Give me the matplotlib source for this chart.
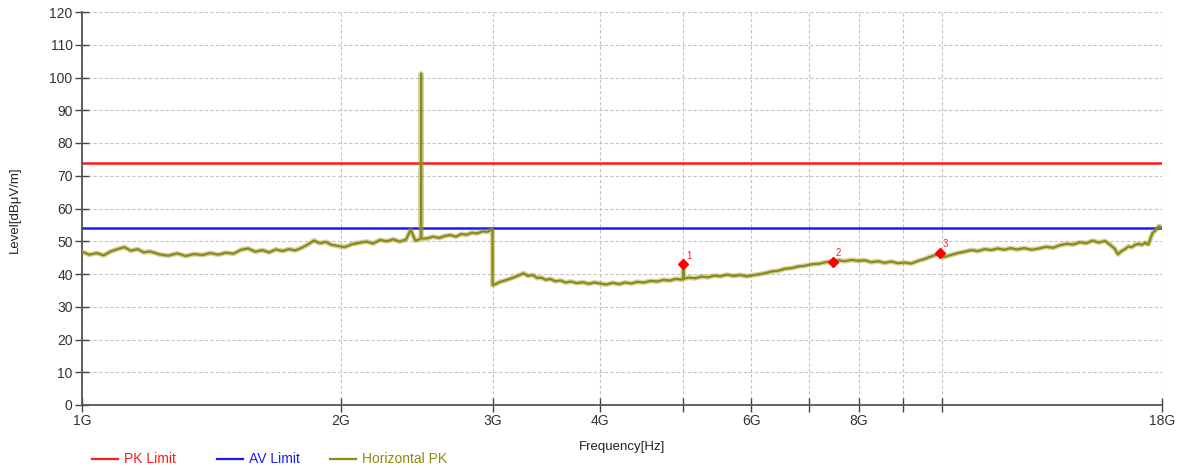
import matplotlib
matplotlib.use("Agg")
import matplotlib.pyplot as plt
from matplotlib.lines import Line2D
from matplotlib.ticker import FixedLocator, FixedFormatter, NullLocator

plt.rcParams['font.family'] = ['Liberation Sans', 'DejaVu Sans']

# ---------------- data ----------------
freq_ghz = [
    1.00, 1.02, 1.04, 1.06, 1.08, 1.10, 1.12, 1.14, 1.16, 1.18, 1.20, 1.23, 1.26, 1.29,
    1.32, 1.35, 1.38, 1.41, 1.44, 1.47, 1.50, 1.53, 1.56, 1.59, 1.62, 1.65, 1.68, 1.71,
    1.74, 1.77, 1.80, 1.83, 1.86, 1.89, 1.92, 1.95, 1.98, 2.02, 2.06, 2.10, 2.14, 2.18,
    2.22, 2.26, 2.30, 2.34, 2.38, 2.41, 2.44, 2.47, 2.477, 2.478, 2.479, 2.49, 2.52,
    2.56, 2.60, 2.64, 2.68, 2.72, 2.76, 2.80, 2.84, 2.88, 2.92, 2.96, 2.995, 3.000,
    3.001, 3.03, 3.06, 3.10, 3.14, 3.18, 3.22, 3.26, 3.30, 3.34, 3.38, 3.42, 3.46, 3.50,
    3.55, 3.60, 3.65, 3.70, 3.76, 3.82, 3.88, 3.94, 4.00, 4.07, 4.14, 4.21, 4.28, 4.35,
    4.42, 4.50, 4.58, 4.66, 4.74, 4.82, 4.90, 4.98, 4.995, 5.00, 5.005, 5.08, 5.16,
    5.25, 5.34, 5.43, 5.52, 5.62, 5.72, 5.82, 5.92, 6.02, 6.12, 6.23, 6.34, 6.45, 6.56,
    6.68, 6.80, 6.92, 7.05, 7.18, 7.31, 7.44, 7.57, 7.70, 7.84, 7.98, 8.12, 8.27, 8.42,
    8.57, 8.72, 8.88, 9.04, 9.20, 9.37, 9.54, 9.71, 9.88, 10.05, 10.23, 10.42, 10.61,
    10.80, 11.0, 11.2, 11.4, 11.6, 11.8, 12.0, 12.2, 12.45, 12.7, 12.95, 13.2, 13.45,
    13.7, 13.95, 14.2, 14.45, 14.7, 14.95, 15.2, 15.45, 15.65, 15.85, 16.0, 16.15, 16.3,
    16.45, 16.6, 16.75, 16.9, 17.05, 17.2, 17.35, 17.45, 17.55, 17.7, 17.85, 18.0,
]
level_h_pk = [
    46.8, 45.9, 46.4, 45.7, 46.9, 47.6, 48.2, 47.1, 47.6, 46.6, 46.9, 46.0, 45.6, 46.3,
    45.5, 46.1, 45.8, 46.4, 45.9, 46.5, 46.2, 47.4, 47.8, 46.8, 47.3, 46.6, 47.5, 47.0,
    47.6, 47.2, 48.0, 49.0, 50.2, 49.4, 49.8, 48.9, 48.6, 48.2, 49.1, 49.5, 49.9, 49.3,
    50.4, 50.0, 50.6, 49.9, 50.5, 53.5, 50.2, 50.6, 51.0, 101.2, 51.0, 50.8, 50.9,
    51.4, 51.0, 51.6, 51.9, 51.4, 52.2, 52.0, 52.6, 52.4, 53.0, 52.9, 53.6, 53.3,
    36.6, 37.0, 37.6, 38.0, 38.5, 39.0, 39.6, 40.2, 39.4, 39.7, 38.8, 38.9, 38.2, 38.5,
    37.8, 38.0, 37.4, 37.7, 37.2, 37.5, 37.0, 37.4, 37.1, 36.8, 37.3, 36.9, 37.4, 37.1,
    37.6, 37.4, 37.9, 37.7, 38.2, 38.0, 38.5, 38.3, 38.5, 42.5, 38.6, 38.9, 38.7,
    39.2, 39.0, 39.5, 39.3, 39.8, 39.4, 39.7, 39.3, 39.6, 39.9, 40.3, 40.8, 41.0, 41.6,
    41.8, 42.3, 42.5, 43.0, 43.1, 43.6, 43.8, 44.2, 43.9, 44.3, 44.0, 44.2, 43.6, 43.9,
    43.4, 43.8, 43.3, 43.5, 43.2, 44.0, 44.6, 45.4, 46.0, 45.2, 45.8, 46.4, 46.8,
    47.3, 47.0, 47.6, 47.3, 47.8, 47.4, 47.9, 47.5, 47.9, 47.4, 47.8, 48.3, 48.0,
    48.8, 49.2, 49.0, 49.7, 49.4, 50.2, 49.6, 50.1, 49.0, 47.8, 46.0, 47.0, 47.6,
    48.4, 48.2, 48.9, 49.2, 48.9, 49.5, 49.0, 50.8, 52.5, 53.4, 54.6, 54.2,
]
pk_limit = 74.0
av_limit = 54.0
marker_freq_ghz = [5.00, 7.46, 9.94]
marker_level = [43.0, 43.7, 46.4]
marker_labels = ["1", "2", "3"]

xtick_ghz = [1, 2, 3, 4, 5, 6, 7, 8, 9, 10, 18]
xtick_labels = ["1G", "2G", "3G", "4G", "", "6G", "", "8G", "", "", "18G"]
yticks = list(range(0, 121, 10))

# ---------------- figure ----------------
W, H = 1179, 468
fig = plt.figure(figsize=(W / 100, H / 100), dpi=100)
ax = fig.add_axes([82 / W, 1 - 405 / H, (1162 - 82) / W, (405 - 12) / H])

trace_color = '#8a8a14'
f_hz = [f * 1e9 for f in freq_ghz]
# soft halo to mimic the dense noisy trace band
ax.plot(f_hz, level_h_pk, color='#9c9c3a', lw=3.6, alpha=0.45, zorder=3)
ax.plot(f_hz, level_h_pk, color=trace_color, lw=1.6, zorder=3)
ax.axhline(pk_limit, color='#ff1a1a', lw=1.8, zorder=2)
ax.axhline(av_limit, color='#1a1aff', lw=1.8, zorder=2)

mk_hz = [f * 1e9 for f in marker_freq_ghz]
ax.plot(mk_hz, marker_level, linestyle='none', marker='D', ms=5.5,
        color='#ff0000', zorder=4)
for x, y, t in zip(mk_hz, marker_level, marker_labels):
    ax.annotate(t, (x, y), xytext=(2, 4), textcoords='offset points',
                color='#ff2020', fontsize=7)

ax.set_xscale('log')
ax.set_xlim(1e9, 18e9)
ax.set_ylim(0, 120)
ax.xaxis.set_major_locator(FixedLocator([v * 1e9 for v in xtick_ghz]))
ax.xaxis.set_major_formatter(FixedFormatter(xtick_labels))
ax.xaxis.set_minor_locator(NullLocator())
ax.set_yticks(yticks)

ax.grid(True, color='#c4c4c4', linestyle=(0, (3, 2)), lw=0.8)
for s in ['top', 'right']:
    ax.spines[s].set_visible(False)
for s in ['left', 'bottom']:
    ax.spines[s].set_color('#555555')
    ax.spines[s].set_linewidth(1.3)
ax.tick_params(axis='both', direction='inout', length=9.5, width=1.0,
               color='#444444', labelsize=10, labelcolor='#333333', pad=2)

ax.set_xlabel('Frequency[Hz]', fontsize=9.5, color='#222222', labelpad=9)
fig.text(15 / W, 1 - 210 / H, 'Level[dBμV/m]', rotation=90, fontsize=9.5,
         color='#222222', ha='center', va='center')

# legend (manual)
leg_items = [("PK Limit", '#ff1a1a', 92), ("AV Limit", '#1a1aff', 217),
             ("Horizontal PK", '#8c8c10', 330)]
yl = 1 - 459 / H
for label, c, x0 in leg_items:
    fig.add_artist(Line2D([x0 / W, (x0 + 26) / W], [yl, yl], color=c, lw=1.6,
                          transform=fig.transFigure))
    fig.text((x0 + 32) / W, yl, label, color=c, fontsize=10, va='center', ha='left')

fig.savefig('out.png', dpi=100)
